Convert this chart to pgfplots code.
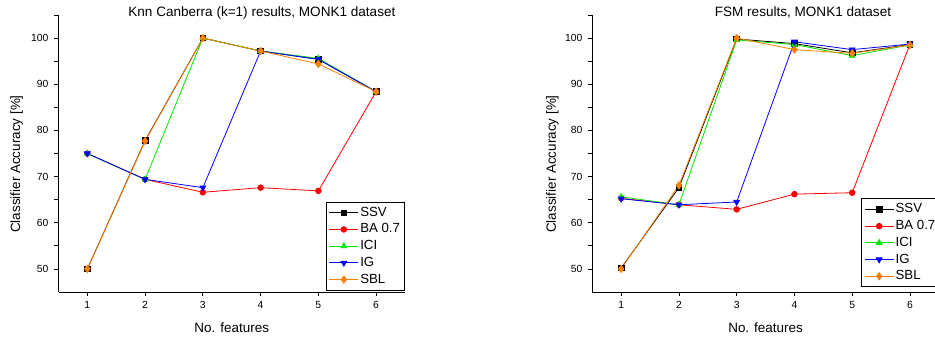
\documentclass[border=0pt]{standalone}
\usepackage{pgfplots}
\pgfplotsset{compat=1.18}
\usepackage{fontspec}
\setmainfont{Liberation Sans}
\definecolor{cssv}{RGB}{0,0,0}
\definecolor{cba}{RGB}{255,0,0}
\definecolor{cici}{RGB}{0,230,0}
\definecolor{cig}{RGB}{0,0,255}
\definecolor{csbl}{RGB}{255,128,0}
\pgfplotsset{
  common/.style={
    scale only axis, width=346.5bp, height=277bp,
    xmin=0.5, xmax=6.5, ymin=45, ymax=105,
    axis x line*=bottom, axis y line*=left,
    axis line style={line width=0.9bp},
    xtick={1,...,6}, ytick={50,60,...,100}, minor ytick={55,65,...,105},
    tick align=outside, major tick length=4bp, minor tick length=4bp,
    every tick/.style={black, line width=0.8bp},
    /pgf/number format/assume math mode=true,
    ticklabel style={font=\fontsize{10.4}{12}\selectfont},
    yticklabel style={xshift=-2.5bp},
    xticklabel style={yshift=-2bp},
    every axis x label/.style={at={(axis description cs:0.5,-0.129)},anchor=center,font=\fontsize{13.5}{16}\selectfont},
    ylabel={Classifier Accuracy [\%]},
    xlabel={No. features},
    legend cell align=left,
    legend image code/.code={\draw[mark repeat=2,mark phase=2] plot coordinates {(0bp,0bp) (14.5bp,0bp) (29bp,0bp)};},
    legend style={font=\fontsize{13.3}{16}\selectfont, draw=black, line width=0.9bp,
      row sep=1.5bp, inner xsep=3bp, inner ysep=3bp,
      nodes={inner sep=1.5bp, text height=9.6bp, text depth=2.6bp}},
    every axis plot/.append style={line width=0.8bp},
  },
  ssv/.style={color=cssv, mark=square*, mark size=2.8bp},
  ba/.style={color=cba, mark=*, mark size=2.8bp},
  ici/.style={color=cici, mark=triangle*, mark size=3.3bp},
  ig/.style={color=cig, mark=triangle*, mark options={rotate=180}, mark size=3.3bp},
  sbl/.style={color=csbl, mark=diamond*, mark size=3.6bp},
}
\begin{document}
\begin{tikzpicture}
\useasboundingbox (0,0) rectangle (935bp,338bp);
\begin{axis}[common, at={(58.5bp,46bp)}, anchor=south west,
  title={Knn Canberra (k=1) results, MONK1 dataset},
  every axis title/.style={at={(axis description cs:0.587,1.008)},anchor=center,font=\fontsize{13.6}{16}\selectfont},
  every axis y label/.style={at={(axis description cs:-0.1206,0.462)},rotate=90,anchor=center,font=\fontsize{13.5}{16}\selectfont},
  legend style={at={(axis description cs:1,0.005)}, anchor=south east}]
\addplot[ssv] coordinates {(1,50) (2,77.8) (3,100) (4,97.2) (5,95.4) (6,88.4)};
\addlegendentry{SSV}
\addplot[ba] coordinates {(1,75) (2,69.4) (3,66.6) (4,67.6) (5,66.9) (6,88.4)};
\addlegendentry{BA 0.7}
\addplot[ici] coordinates {(1,75) (2,69.4) (3,100) (4,97.2) (5,95.6) (6,88.4)};
\addlegendentry{ICI}
\addplot[ig] coordinates {(1,75) (2,69.4) (3,67.6) (4,97.2) (5,95.4) (6,88.4)};
\addlegendentry{IG}
\addplot[sbl] coordinates {(1,50) (2,77.7) (3,100) (4,97.2) (5,94.4) (6,88.4)};
\addlegendentry{SBL}
\end{axis}
\begin{axis}[common, at={(592.3bp,46bp)}, anchor=south west,
  title={FSM results, MONK1 dataset},
  every axis title/.style={at={(axis description cs:0.608,1.008)},anchor=center,font=\fontsize{13.6}{16}\selectfont},
  every axis y label/.style={at={(axis description cs:-0.1154,0.462)},rotate=90,anchor=center,font=\fontsize{13.5}{16}\selectfont},
  legend style={at={(axis description cs:0.775,0.017)}, anchor=south west}]
\addplot[ssv] coordinates {(1,50.2) (2,67.6) (3,99.8) (4,98.8) (5,96.8) (6,98.6)};
\addlegendentry{SSV}
\addplot[ba] coordinates {(1,65.3) (2,63.9) (3,62.9) (4,66.2) (5,66.5) (6,98.6)};
\addlegendentry{BA 0.7}
\addplot[ici] coordinates {(1,65.6) (2,63.9) (3,99.6) (4,98.6) (5,96.2) (6,98.5)};
\addlegendentry{ICI}
\addplot[ig] coordinates {(1,65.2) (2,63.9) (3,64.5) (4,99.2) (5,97.5) (6,98.7)};
\addlegendentry{IG}
\addplot[sbl] coordinates {(1,50) (2,68.1) (3,100) (4,97.5) (5,96.7) (6,98.5)};
\addlegendentry{SBL}
\end{axis}
\end{tikzpicture}
\end{document}
